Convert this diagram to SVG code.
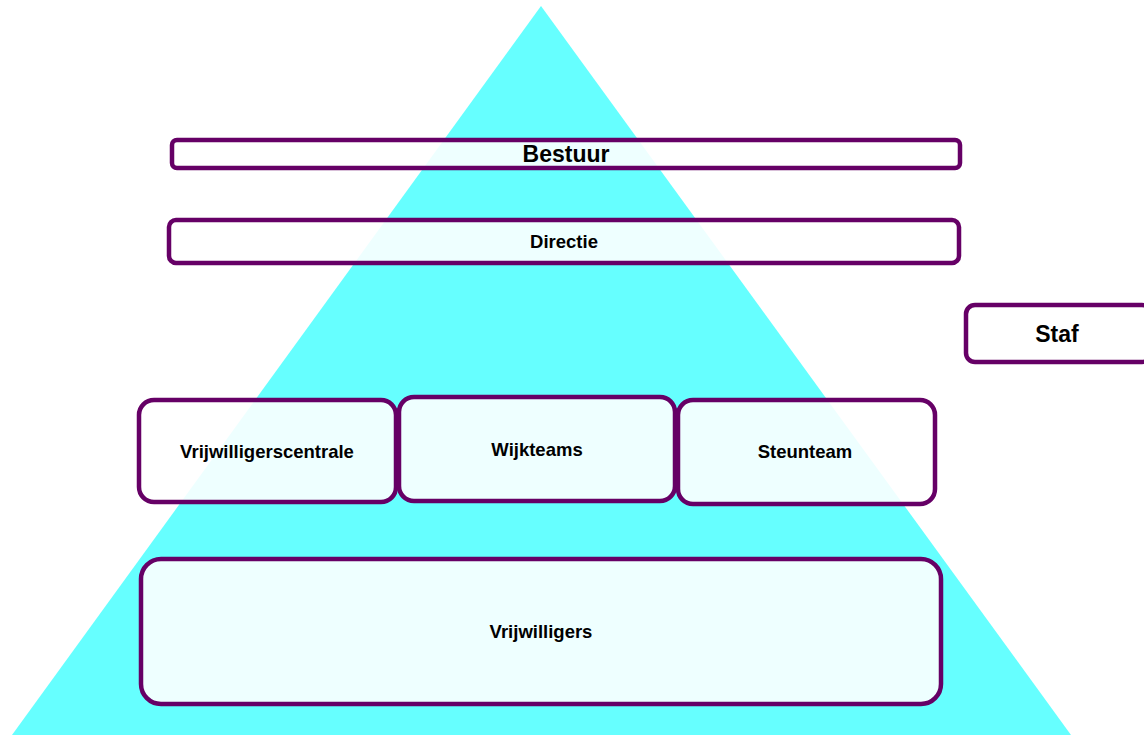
<svg xmlns="http://www.w3.org/2000/svg" width="1144" height="735" viewBox="0 0 1144 735">
<style>
.box{fill:#ffffff;fill-opacity:0.89;stroke:#660066;stroke-width:4.5}
.t{font-family:"Liberation Sans",Arial,sans-serif;font-weight:bold;fill:#000;text-anchor:middle;dominant-baseline:central}
.s{font-size:18.5px}
.l{font-size:23px}
</style>
<rect width="1144" height="735" fill="#ffffff"/>
<polygon points="541,6 1071,735 12,735" fill="#66ffff"/>
<g id="bestuur"><rect class="box" x="172" y="140" width="788" height="28" rx="5"/><text class="t l" x="566" y="154">Bestuur</text></g>
<g id="directie"><rect class="box" x="169" y="220" width="790" height="43" rx="7"/><text class="t s" x="564" y="241">Directie</text></g>
<g id="staf"><rect class="box" x="966" y="305" width="185" height="57" rx="9"/><text class="t l" x="1057" y="334">Staf</text></g>
<g id="vrijwilligerscentrale"><rect class="box" x="139" y="400" width="257" height="102" rx="15"/><text class="t s" x="267" y="451">Vrijwilligerscentrale</text></g>
<g id="wijkteams"><rect class="box" x="399" y="397" width="276" height="104" rx="15"/><text class="t s" x="537" y="449">Wijkteams</text></g>
<g id="steunteam"><rect class="box" x="678" y="400" width="257" height="104" rx="15"/><text class="t s" x="805" y="451">Steunteam</text></g>
<g id="vrijwilligers"><rect class="box" x="141" y="559" width="800" height="145" rx="20"/><text class="t s" x="541" y="631">Vrijwilligers</text></g>
<g id="connectors"/>
</svg>
